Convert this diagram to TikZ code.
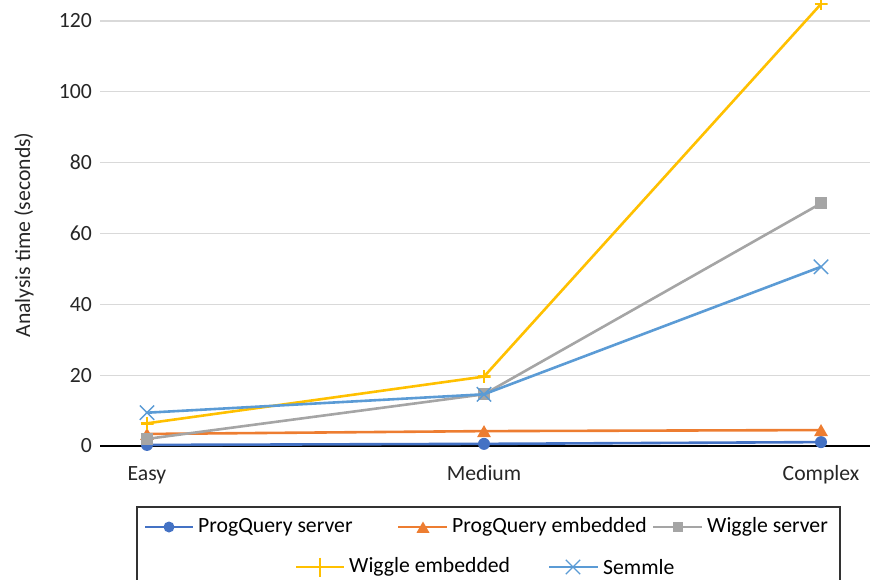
\documentclass[tikz,border=0pt]{standalone}
\usepackage{fontspec}
\setmainfont{Carlito}
\usetikzlibrary{positioning, shapes.geometric, shapes.misc}
\definecolor{pqsblue}{HTML}{4472C4}
\definecolor{pqeorange}{HTML}{ED7D31}
\definecolor{wsgray}{HTML}{A5A5A5}
\definecolor{weyellow}{HTML}{FFC000}
\definecolor{semblue}{HTML}{5B9BD5}
\definecolor{gridgray}{HTML}{D9D9D9}
\tikzstyle{chartfont} = [font=\fontsize{21.7}{26}\selectfont]
\tikzstyle{gridline} = [draw=gridgray, line width=1.3pt]
\tikzstyle{ticklabel} = [chartfont, anchor=east, inner sep=0, text=black!85]
\tikzstyle{catlabel} = [chartfont, anchor=base, inner sep=0, text=black!85]
\tikzstyle{series} = [line width=2.6pt, line cap=round, line join=round]
\tikzstyle{dot} = [circle, fill=pqsblue, inner sep=0, minimum size=12pt]
\tikzstyle{tri} = [regular polygon, regular polygon sides=3, fill=pqeorange, inner sep=0, minimum size=16pt, yshift=-2pt]
\tikzstyle{sqr} = [rectangle, fill=wsgray, inner sep=0, minimum size=12pt]
\tikzstyle{plusmark} = [rectangle, inner sep=0, minimum size=13pt, path picture={\draw[weyellow, line width=2.6pt] (path picture bounding box.north) -- (path picture bounding box.south) (path picture bounding box.west) -- (path picture bounding box.east);}]
\tikzstyle{xmark} = [cross out, draw=semblue, line width=1.4pt, inner sep=0, minimum size=13pt]
\tikzstyle{legtext} = [chartfont, inner sep=0]
\begin{document}
\begin{tikzpicture}[x=1pt, y=1pt, node distance=5pt]
\useasboundingbox (0,0) rectangle (870,579);
\node (y_label) [chartfont, rotate=90, text=black!85] at (24,344) {Analysis time (seconds)};
\begin{scope}[shift={(0,133)}, y=3.5417pt]
  % grid and value axis
  \foreach \v in {20,40,...,120} {
    \coordinate (grid_left_\v) at (100,\v);
    \coordinate (grid_right_\v) at (870,\v);
    \draw [gridline] (grid_left_\v) -- (grid_right_\v);
    \node (tick_\v) [ticklabel] at (92,\v) {\v};
  }
  \node (tick_0) [ticklabel] at (92,0) {0};
  \coordinate (axis_left) at (100,0);
  \coordinate (axis_right) at (870,0);
  \draw [line width=2.6pt] (axis_left) -- (axis_right);
  \node (easy_label) [catlabel] at (147,-9.6) {Easy};
  \node (medium_label) [catlabel] at (484,-9.6) {Medium};
  \node (complex_label) [catlabel] at (821,-9.6) {Complex};
  % ProgQuery server
  \coordinate (pqs_easy) at (147,0.3);
  \coordinate (pqs_medium) at (484,0.6);
  \coordinate (pqs_complex) at (821,1.1);
  \draw [series, pqsblue] (pqs_easy) -- (pqs_medium) -- (pqs_complex);
  \node (pqs_easy_mark) [dot] at (pqs_easy) {};
  \node (pqs_medium_mark) [dot] at (pqs_medium) {};
  \node (pqs_complex_mark) [dot] at (pqs_complex) {};
  % ProgQuery embedded
  \coordinate (pqe_easy) at (147,3.4);
  \coordinate (pqe_medium) at (484,4.2);
  \coordinate (pqe_complex) at (821,4.5);
  \draw [series, pqeorange] (pqe_easy) -- (pqe_medium) -- (pqe_complex);
  \node (pqe_easy_mark) [tri] at (pqe_easy) {};
  \node (pqe_medium_mark) [tri] at (pqe_medium) {};
  \node (pqe_complex_mark) [tri] at (pqe_complex) {};
  % Wiggle server
  \coordinate (ws_easy) at (147,2.0);
  \coordinate (ws_medium) at (484,14.6);
  \coordinate (ws_complex) at (821,68.5);
  \draw [series, wsgray] (ws_easy) -- (ws_medium) -- (ws_complex);
  \node (ws_easy_mark) [sqr] at (ws_easy) {};
  \node (ws_medium_mark) [sqr] at (ws_medium) {};
  \node (ws_complex_mark) [sqr] at (ws_complex) {};
  % Wiggle embedded
  \coordinate (we_easy) at (147,6.4);
  \coordinate (we_medium) at (484,19.6);
  \coordinate (we_complex) at (821,124.8);
  \draw [series, weyellow] (we_easy) -- (we_medium) -- (we_complex);
  \node (we_easy_mark) [plusmark] at (we_easy) {};
  \node (we_medium_mark) [plusmark] at (we_medium) {};
  \node (we_complex_mark) [plusmark] at (we_complex) {};
  % Semmle
  \coordinate (sem_easy) at (147,9.4);
  \coordinate (sem_medium) at (484,14.6);
  \coordinate (sem_complex) at (821,50.6);
  \draw [series, semblue] (sem_easy) -- (sem_medium) -- (sem_complex);
  \node (sem_easy_mark) [xmark] at (sem_easy) {};
  \node (sem_medium_mark) [xmark] at (sem_medium) {};
  \node (sem_complex_mark) [xmark] at (sem_complex) {};
\end{scope}
% legend
\draw [line width=1.3pt, draw=black!80] (137,-10) rectangle (840,72);
\coordinate (leg_pqs_start) at (145,52);
\coordinate (leg_pqs_end) at (193,52);
\draw [series, line cap=butt, pqsblue] (leg_pqs_start) -- (leg_pqs_end);
\node (leg_pqs_mark) [dot, minimum size=11pt] at (169,52) {};
\node (leg_pqs_text) [legtext, right=of leg_pqs_end] {ProgQuery server};
\coordinate (leg_pqe_start) at (398,52);
\coordinate (leg_pqe_end) at (447,52);
\draw [series, line cap=butt, pqeorange] (leg_pqe_start) -- (leg_pqe_end);
\node (leg_pqe_mark) [tri, minimum size=15pt] at (423,52) {};
\node (leg_pqe_text) [legtext, right=of leg_pqe_end] {ProgQuery embedded};
\coordinate (leg_ws_start) at (653,52);
\coordinate (leg_ws_end) at (702,52);
\draw [series, line cap=butt, wsgray] (leg_ws_start) -- (leg_ws_end);
\node (leg_ws_mark) [sqr, minimum size=10pt] at (678,52) {};
\node (leg_ws_text) [legtext, right=of leg_ws_end] {Wiggle server};
\coordinate (leg_we_start) at (296,12);
\coordinate (leg_we_end) at (344,12);
\draw [series, line cap=butt, weyellow] (leg_we_start) -- (leg_we_end);
\node (leg_we_mark) [plusmark, minimum size=19pt] at (320,12) {};
\node (leg_we_text) [legtext, right=of leg_we_end] {Wiggle embedded};
\coordinate (leg_sem_start) at (549,12);
\coordinate (leg_sem_end) at (598,12);
\draw [series, line cap=butt, semblue] (leg_sem_start) -- (leg_sem_end);
\node (leg_sem_mark) [xmark, minimum size=13pt] at (573,12) {};
\node (leg_sem_text) [legtext, right=of leg_sem_end] {Semmle};
\end{tikzpicture}
\end{document}
